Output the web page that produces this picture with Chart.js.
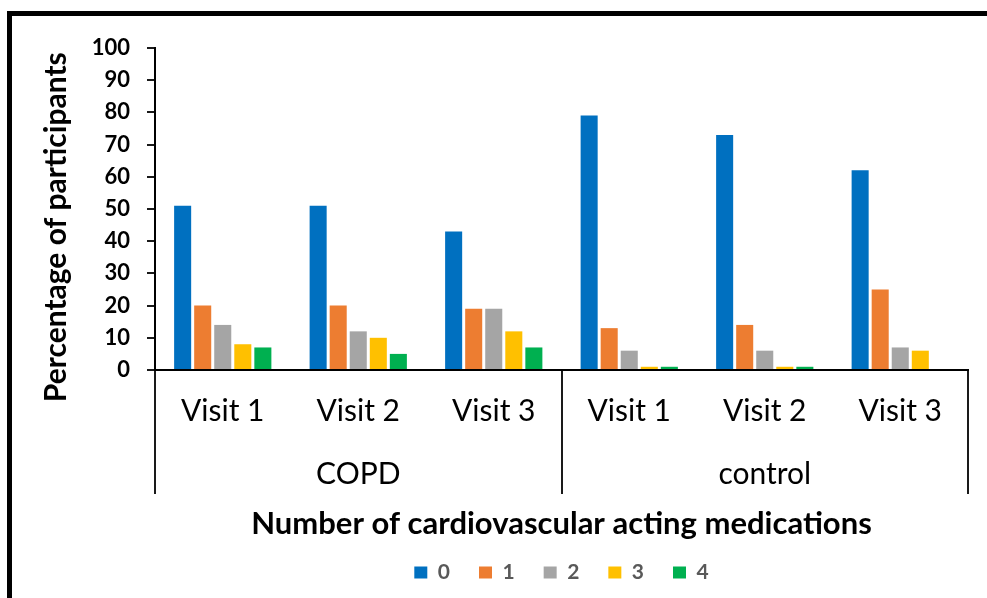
<!DOCTYPE html>
<html lang="en">
  <head>
    <meta charset="UTF-8" />
    <title>Cardiovascular acting medications</title>
    <script src="https://cdn.jsdelivr.net/npm/chart.js"></script>
    <style>
      html, body { margin: 0; padding: 0; background: #fff; overflow: hidden; }
      #wrap { position: relative; width: 987px; height: 598px; }
      #frame {
        position: absolute; left: 7px; top: 11px;
        width: 1100px; height: 700px;
        border: 5px solid #000; pointer-events: none;
      }
    </style>
  </head>
  <body>
    <div id="wrap">
      <canvas id="medsChart" width="987" height="598"></canvas>
      <div id="frame"></div>
    </div>
    <script>
      // groups and visits on the x axis
      const groups = ["COPD", "control"];
      const visits = ["Visit 1", "Visit 2", "Visit 3"];

      // number of medications (legend) and percentage per visit
      const medCounts = ["0", "1", "2", "3", "4"];
      const meds0 = [51, 51, 43, 79, 73, 62];
      const meds1 = [20, 20, 19, 13, 14, 25];
      const meds2 = [14, 12, 19, 6, 6, 7];
      const meds3 = [8, 10, 12, 1, 1, 6];
      const meds4 = [7, 5, 7, 1, 1, 0];

      const colors = ["#0070C0", "#ED7D31", "#A5A5A5", "#FFC000", "#00B050"];

      // group name goes under the middle visit
      const labels = [];
      groups.forEach((g) => {
        visits.forEach((v, i) => labels.push(i === 1 ? [v, g] : [v]));
      });

      const series = [meds0, meds1, meds2, meds3, meds4];
      const datasets = series.map((data, i) => ({
        label: medCounts[i],
        data: data,
        backgroundColor: colors[i],
        categoryPercentage: 0.74,
        barPercentage: 0.85,
      }));

      const font = "Lato, 'Open Sans', sans-serif";

      new Chart(document.getElementById("medsChart"), {
        type: "bar",
        data: { labels: labels, datasets: datasets },
        options: {
          responsive: false,
          animation: false,
          layout: { padding: { left: 30, top: 48, right: 19, bottom: 5 } },
          scales: {
            x: {
              grid: {
                drawOnChartArea: false,
                drawTicks: true,
                tickLength: 124,
                lineWidth: 2,
                color: (ctx) =>
                  ctx.index === undefined || ctx.index % 3 === 0 ? "#1a1a1a" : "rgba(0,0,0,0)",
              },
              border: { display: true, color: "#000", width: 2 },
              ticks: {
                padding: -114.5,
                maxRotation: 0,
                autoSkip: false,
                color: "#000",
                font: { family: font, size: 30, lineHeight: 2.1 },
              },
              title: {
                display: true,
                text: "Number of cardiovascular acting medications",
                color: "#000",
                font: { family: font, size: 31, weight: "bold", lineHeight: 0.6 },
                padding: 0,
              },
              afterFit: (scale) => {
                scale.height = 163;
              },
            },
            y: {
              min: 0,
              max: 100,
              ticks: {
                stepSize: 10,
                padding: 17,
                color: "#000",
                font: { family: font, size: 22, weight: "bold" },
              },
              grid: {
                drawOnChartArea: false,
                drawTicks: true,
                tickLength: 8,
                lineWidth: 2,
                color: "#1a1a1a",
              },
              border: { display: true, color: "#000", width: 2 },
              title: {
                display: true,
                text: "Percentage of participants     ",
                color: "#000",
                font: { family: font, size: 30, weight: "bold", lineHeight: 1 },
                padding: { top: 11, bottom: 0 },
              },
              afterFit: (scale) => {
                scale.width = 125;
              },
            },
          },
          plugins: {
            legend: {
              position: "bottom",
              fullSize: false,
              labels: {
                boxWidth: 13,
                boxHeight: 12,
                padding: 29,
                color: "#595959",
                font: { family: font, size: 21, weight: "bold" },
              },
            },
            tooltip: { enabled: false },
          },
        },
      });
    </script>
  </body>
</html>
